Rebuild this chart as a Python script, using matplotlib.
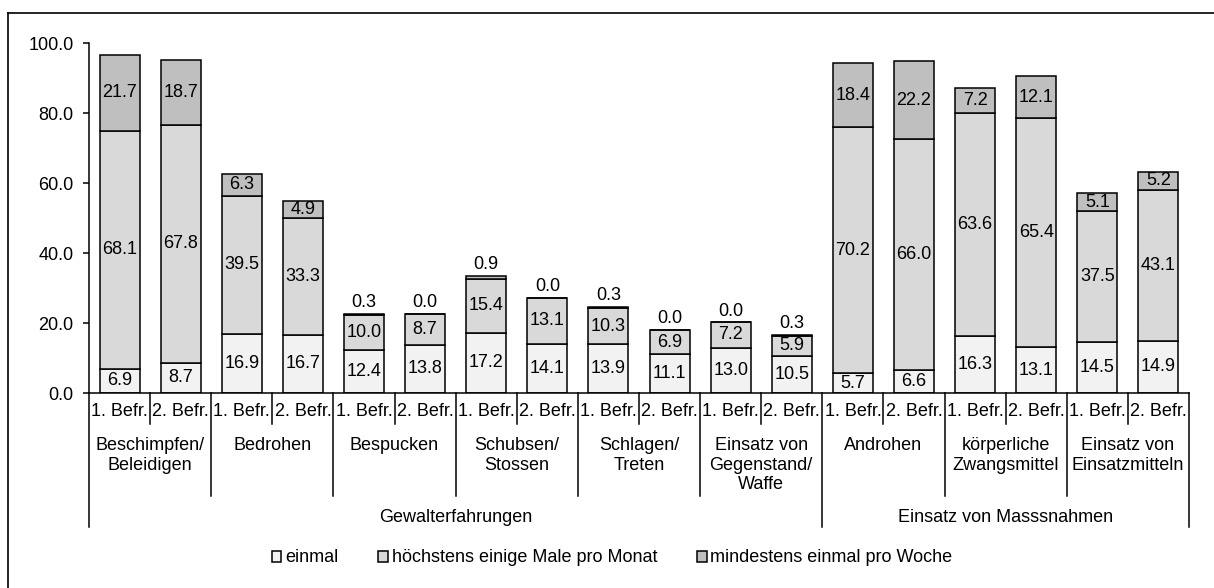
import matplotlib.pyplot as plt
import matplotlib.transforms as mtransforms
from matplotlib.patches import Patch
from matplotlib.lines import Line2D
import numpy as np

plt.rcParams['font.family'] = ['Liberation Sans', 'DejaVu Sans']

# data: three stacked shares per bar, two surveys per item
groups = ["Beschimpfen/\nBeleidigen", "Bedrohen", "Bespucken", "Schubsen/\nStossen",
          "Schlagen/\nTreten", "Einsatz von\nGegenstand/\nWaffe", "Androhen",
          "körperliche\nZwangsmittel", "Einsatz von\nEinsatzmitteln"]
waves = ["1. Befr.", "2. Befr."]
top_levels = ["Gewalterfahrungen", "Einsatz von Masssnahmen"]
top_sizes = [6, 3]

einmal = [6.9, 8.7, 16.9, 16.7, 12.4, 13.8, 17.2, 14.1, 13.9, 11.1,
          13.0, 10.5, 5.7, 6.6, 16.3, 13.1, 14.5, 14.9]
monat = [68.1, 67.8, 39.5, 33.3, 10.0, 8.7, 15.4, 13.1, 10.3, 6.9,
         7.2, 5.9, 70.2, 66.0, 63.6, 65.4, 37.5, 43.1]
woche = [21.7, 18.7, 6.3, 4.9, 0.3, 0.0, 0.9, 0.0, 0.3, 0.0,
         0.0, 0.3, 18.4, 22.2, 7.2, 12.1, 5.1, 5.2]

series = [einmal, monat, woche]
series_names = ["einmal", "höchstens einige Male pro Monat", "mindestens einmal pro Woche"]
colors = ["#f2f2f2", "#d9d9d9", "#bfbfbf"]

FS = 13
W, H = 1214, 588
fig = plt.figure(figsize=(W / 100, H / 100), dpi=100)
ax = fig.add_axes([89 / W, 1 - 393 / H, (1189 - 89) / W, (393 - 43) / H])

x = np.arange(len(einmal))
bottom = np.zeros(len(x))
for vals, col in zip(series, colors):
    ax.bar(x, vals, width=0.655, bottom=bottom, color=col, edgecolor='black',
           linewidth=1.1, zorder=2)
    bottom = bottom + np.array(vals)

# value labels
base = np.zeros(len(x))
for k, vals in enumerate(series):
    for i, v in enumerate(vals):
        if k == 2 and v < 3:
            ax.annotate(f"{v:.1f}", (x[i], base[i] + v), xytext=(0, 2),
                        textcoords='offset points', ha='center', va='bottom',
                        fontsize=FS)
        else:
            ax.text(x[i], base[i] + v / 2, f"{v:.1f}", ha='center', va='center',
                    fontsize=FS)
    base = base + np.array(vals)

ax.set_xlim(-0.5, len(x) - 0.5)
ax.set_ylim(0, 100)
ax.set_yticks(np.arange(0, 101, 20))
ax.set_yticklabels([f"{t:.1f}" for t in np.arange(0, 101, 20)], fontsize=FS)
ax.tick_params(axis='y', direction='out', length=4, width=1.1, pad=7)
ax.set_xticks([])
for s in ['top', 'right']:
    ax.spines[s].set_visible(False)
for s in ['left', 'bottom']:
    ax.spines[s].set_linewidth(1.1)

# multi-level category axis
tr = mtransforms.blended_transform_factory(ax.transData, fig.transFigure)
def fy(px):
    return 1 - px / H

for i in range(len(x)):
    ax.text(x[i], fy(412), waves[i % 2], transform=tr, ha='center', va='center',
            fontsize=FS)

for g, name in enumerate(groups):
    ax.text(2 * g + 0.5, fy(437), name, transform=tr, ha='center', va='top',
            fontsize=FS, linespacing=1.2)

start = 0
for name, size in zip(top_levels, top_sizes):
    ax.text(start + size - 0.5, fy(517), name, transform=tr, ha='center',
            va='center', fontsize=FS)
    start += 2 * size

outer = [0, 12, 18]
for b in range(len(x) + 1):
    if b in outer:
        end = 527
    elif b % 2 == 0:
        end = 496
    else:
        end = 424
    ax.add_line(Line2D([b - 0.5, b - 0.5], [fy(393), fy(end)], transform=tr,
                       color='black', linewidth=1.1, clip_on=False))

handles = [Patch(facecolor=c, edgecolor='black', linewidth=1.1) for c in colors]
fig.legend(handles, series_names, loc='center', bbox_to_anchor=(612 / W, fy(558)),
           ncol=3, frameon=False, fontsize=FS, handlelength=0.55, handleheight=0.55,
           handletextpad=0.2, columnspacing=2.2)

# outer frame (left and top edge visible)
fig.add_artist(Line2D([8 / W, 8 / W], [0, fy(13)], transform=fig.transFigure,
                      color='black', linewidth=1.2))
fig.add_artist(Line2D([8 / W, 1], [fy(13), fy(13)], transform=fig.transFigure,
                      color='black', linewidth=1.2))

fig.savefig("out.png", dpi=100)
